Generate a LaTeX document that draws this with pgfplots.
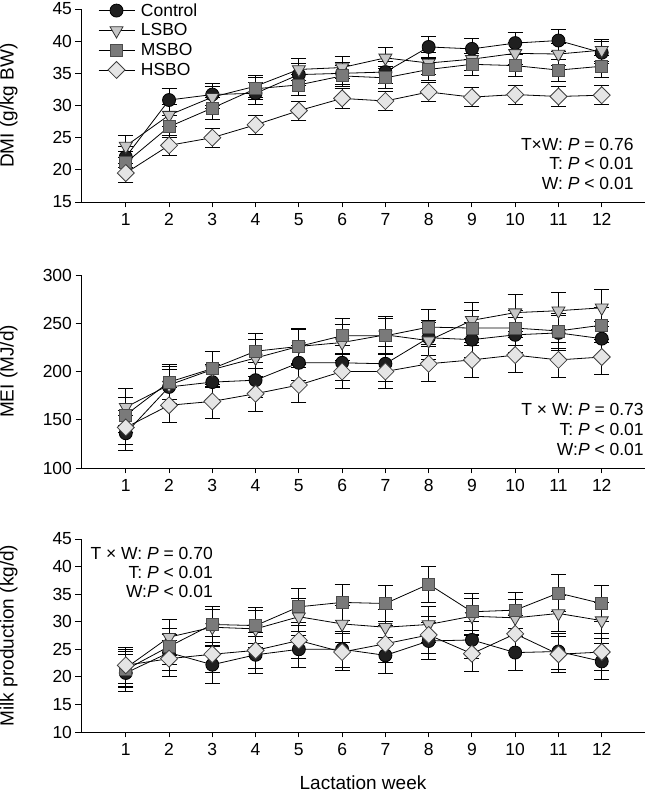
\documentclass[border=0pt]{standalone}
\usepackage{fontspec}
\setmainfont{Liberation Sans}
\usepackage{pgfplots}
\pgfplotsset{compat=1.18}
\usepackage{pgfplotstable}

\pgfplotstableread{
w c ce l le m me h he
1 22.0 1.7 23.7 1.7 21.1 1.7 19.5 1.5
2 30.85 1.8 28.5 1.7 26.7 1.7 23.8 1.5
3 31.7 1.7 31.3 1.7 29.6 1.7 25.0 1.5
4 31.9 1.7 33.0 1.7 32.6 1.7 27.0 1.5
5 34.8 1.7 35.6 1.7 33.2 1.7 29.2 1.5
6 35.0 1.7 35.9 1.7 34.6 1.7 31.1 1.5
7 35.2 1.7 37.4 1.7 34.3 1.7 30.7 1.5
8 39.1 1.7 36.6 1.7 35.6 1.7 32.1 1.5
9 38.8 1.7 37.2 1.7 36.4 1.7 31.3 1.5
10 39.7 1.7 38.1 1.7 36.2 1.7 31.7 1.5
11 40.1 1.7 38.0 1.7 35.5 1.7 31.4 1.5
12 38.2 1.7 38.6 1.7 36.1 1.7 31.6 1.5
}\dmi

\pgfplotstableread{
w c ce l le m me h he
1 136 18 163 19 155 18 142 18
2 184 18 186 19 189 18 165 18
3 189 18 202 19 203 18 169 18
4 191 18 214 19 221 18 177 18
5 209 18 226 19 226 18 186 18
6 209 18 230 19 237 18 200 18
7 208 18 238 19 237 18 200 18
8 235 18 232 19 246 18 208 18
9 233 18 253 19 245 18 212 18
10 238 18 261 19 245 18 217 18
11 240 18 263 19 242 18 212 18
12 234 18 266 19 248 18 215 18
}\mei

\pgfplotstableread{
w c ce l le m me h he
1 20.7 3.3 21.6 3.3 21.3 3.3 22.1 3.3
2 24.4 3.3 27.2 3.3 25.5 3.3 23.3 3.3
3 22.2 3.3 29.0 3.3 29.5 3.3 24.1 3.3
4 24.0 3.3 28.7 3.3 29.3 3.3 24.8 3.3
5 25.0 3.3 30.9 3.3 32.7 3.3 26.6 3.3
6 25.0 3.3 29.6 3.3 33.5 3.3 24.5 3.3
7 23.9 3.3 29.0 3.3 33.3 3.3 26.0 3.3
8 26.5 3.3 29.5 3.3 36.8 3.3 27.6 3.3
9 26.7 3.3 31.0 3.3 31.8 3.3 24.2 3.3
10 24.4 3.3 30.7 3.3 32.1 3.3 27.8 3.3
11 24.6 3.3 31.5 3.3 35.2 3.3 24.1 3.3
12 22.8 3.3 30.2 3.3 33.3 3.3 24.5 3.3
}\milk

\newcommand{\fnt}{\fontsize{17.5}{20}\selectfont}
\newcommand{\lfnt}{\fontsize{19}{22}\selectfont}

\pgfplotsset{
  panel/.style={
    scale only axis, width=564pt, height=193pt,
    xmin=-0.035, xmax=13, xtick={1,...,12},
    axis x line*=bottom, axis y line*=left,
    axis line style={line width=0.9pt,-},
    tick align=outside, major tick length=5.5pt,
    tick style={line width=0.9pt, black},
    ticklabel style={font=\fnt},
    xticklabel style={yshift=-2pt},
    label style={font=\lfnt},
    /pgf/number format/assume math mode=true,
    ylabel style={at={(axis description cs:-0.128,0.5)}, anchor=center},
    clip=false,
    error bars/y dir=both, error bars/y explicit,
    error bars/error bar style={line width=0.8pt, black},
    error bars/error mark options={rotate=90, mark size=7.5pt, line width=0.8pt, black},
  },
  sc/.style={black, line width=0.8pt, mark=*, mark size=6.5pt, mark options={fill=black!88, draw=black, solid}},
  sl/.style={black, line width=0.8pt, mark=triangle*, mark size=7.5pt, mark options={rotate=180, fill=black!22, draw=black!80, solid}},
  sm/.style={black, line width=0.8pt, mark=square*, mark size=6pt, mark options={fill=black!52, draw=black!70, solid}},
  sh/.style={black, line width=0.8pt, mark=square*, mark size=6pt, mark options={rotate=45, fill=black!10, draw=black!75, solid}},
}

\begin{document}
\begin{tikzpicture}
\path[use as bounding box] (0,0) rectangle (647pt,794pt);

% Top panel: DMI
\begin{axis}[panel, at={(81pt,592pt)}, anchor=south west,
  ymin=15, ymax=45, ytick={15,20,...,45},
  ylabel={DMI (g/kg BW)},
  legend style={at={(axis description cs:0.030,1.04)}, anchor=north west, draw=none, fill=none, font=\fnt, inner sep=0pt, row sep=2pt},
  legend cell align=left,
  legend image code/.code={\draw[mark repeat=2,mark phase=2,#1] plot coordinates {(0pt,0pt)(18pt,0pt)(36pt,0pt)}; \path (40pt,0pt);},
]
\addplot[sc] table[x=w, y=c, y error=ce] {\dmi};
\addplot[sl] table[x=w, y=l, y error=le] {\dmi};
\addplot[sm] table[x=w, y=m, y error=me] {\dmi};
\addplot[sh] table[x=w, y=h, y error=he] {\dmi};
\legend{Control, LSBO, MSBO, HSBO}
\node[anchor=east, font=\fnt, inner sep=0pt] at (axis description cs:0.980,0.300) {T×W: \textit{P} = 0.76};
\node[anchor=east, font=\fnt, inner sep=0pt] at (axis description cs:0.980,0.197) {T: \textit{P} < 0.01};
\node[anchor=east, font=\fnt, inner sep=0pt] at (axis description cs:0.980,0.097) {W: \textit{P} < 0.01};
\end{axis}

% Middle panel: MEI
\begin{axis}[panel, at={(81pt,326pt)}, anchor=south west,
  ymin=100, ymax=300, ytick={100,150,...,300},
  ylabel={MEI (MJ/d)},
]
\addplot[sc] table[x=w, y=c, y error=ce] {\mei};
\addplot[sl] table[x=w, y=l, y error=le] {\mei};
\addplot[sm] table[x=w, y=m, y error=me] {\mei};
\addplot[sh] table[x=w, y=h, y error=he] {\mei};
\node[anchor=east, font=\fnt, inner sep=0pt] at (axis description cs:0.998,0.302) {T × W: \textit{P} = 0.73};
\node[anchor=east, font=\fnt, inner sep=0pt] at (axis description cs:0.998,0.198) {T: \textit{P} < 0.01};
\node[anchor=east, font=\fnt, inner sep=0pt] at (axis description cs:0.998,0.098) {W:\textit{P} < 0.01};
\end{axis}

% Bottom panel: Milk production
\begin{axis}[panel, at={(81pt,62pt)}, anchor=south west,
  ymin=10, ymax=45, ytick={10,15,...,45},
  ylabel={Milk production (kg/d)},
  xlabel={Lactation week},
  xlabel style={at={(axis description cs:0.5,-0.265)}, anchor=center},
]
\addplot[sc] table[x=w, y=c, y error=ce] {\milk};
\addplot[sl] table[x=w, y=l, y error=le] {\milk};
\addplot[sm] table[x=w, y=m, y error=me] {\milk};
\addplot[sh] table[x=w, y=h, y error=he] {\milk};
\node[anchor=east, font=\fnt, inner sep=0pt] at (axis description cs:0.234,0.926) {T × W: \textit{P} = 0.70};
\node[anchor=east, font=\fnt, inner sep=0pt] at (axis description cs:0.234,0.825) {T: \textit{P} < 0.01};
\node[anchor=east, font=\fnt, inner sep=0pt] at (axis description cs:0.234,0.727) {W:\textit{P} < 0.01};
\end{axis}
\end{tikzpicture}
\end{document}
